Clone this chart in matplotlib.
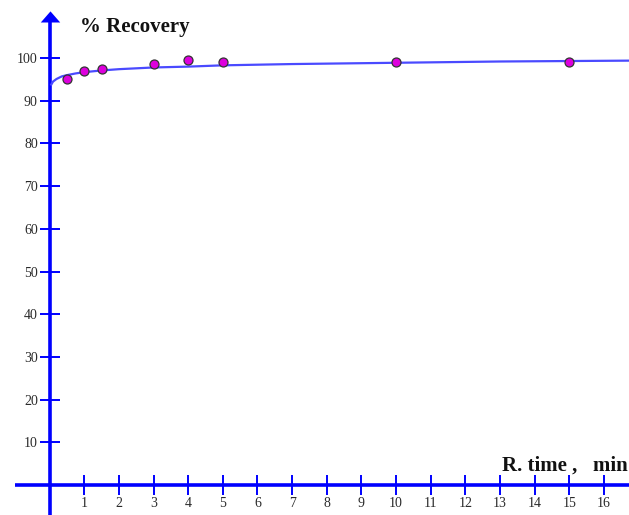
import matplotlib
matplotlib.use("Agg")
import matplotlib.pyplot as plt

# Data
time_min = [0.5, 1, 1.5, 3, 4, 5, 10, 15]
recovery = [95.1, 97.0, 97.4, 98.6, 99.5, 99.1, 99.1, 99.1]

# Trend curve points
curve_x = [0.05, 0.1, 0.2, 0.35, 0.5, 0.75, 1, 1.5, 2, 3, 4, 5, 7, 10, 13, 16.72]
curve_y = [93.8, 94.5, 95.1, 95.7, 96.0, 96.4, 96.7, 97.1, 97.4, 97.8, 98.0, 98.3, 98.6, 98.9, 99.2, 99.4]

x_ticks = list(range(1, 17))
y_ticks = list(range(10, 101, 10))

fig = plt.figure(figsize=(6.29, 5.15), dpi=100)
ax = fig.add_axes([0, 0, 1, 1])
ax.set_xlim(-1.43, 16.72)
ax.set_ylim(-7.0, 113.6)

blue = "#0000ff"
for s in ["top", "right"]:
    ax.spines[s].set_visible(False)
ax.spines["left"].set_position(("data", 0))
ax.spines["bottom"].set_position(("data", 0))
ax.spines["left"].set_bounds(-7.0, 108.6)
ax.spines["bottom"].set_bounds(-1.0, 16.72)
for s in ["left", "bottom"]:
    ax.spines[s].set_color(blue)
    ax.spines[s].set_linewidth(2.6)
    ax.spines[s].set_capstyle("butt")

arrow_marker = [(-7, 0), (7, 0), (0, 8), (-7, 0)]
ax.plot([0], [108.4], marker=arrow_marker, color=blue, markersize=16,
        markeredgewidth=0, clip_on=False)

ax.set_xticks(x_ticks)
ax.set_yticks(y_ticks)
ax.set_xticklabels([str(v) for v in x_ticks])
ax.set_yticklabels([str(v) for v in y_ticks])
ax.tick_params(direction="inout", length=15, width=1.4, color=blue,
               labelsize=10, pad=1, labelcolor="#2a2a2a")
for lab in ax.get_xticklabels() + ax.get_yticklabels():
    lab.set_family("Liberation Serif")

ax.plot(curve_x, curve_y, color="#4a4aff", lw=1.6, zorder=3)
ax.scatter(time_min, recovery, s=42, facecolor="#dd00dd", edgecolor="#333333",
           linewidth=0.9, zorder=4)

ax.text(0.88, 107.3, "% Recovery", family="Liberation Serif", fontweight="bold",
        fontsize=15, ha="left", va="center", color="#111111")
ax.text(13.05, 4.5, "R. time ,   min", family="Liberation Serif", fontweight="bold",
        fontsize=15, ha="left", va="center", color="#111111")

fig.savefig("out.png", dpi=100)
